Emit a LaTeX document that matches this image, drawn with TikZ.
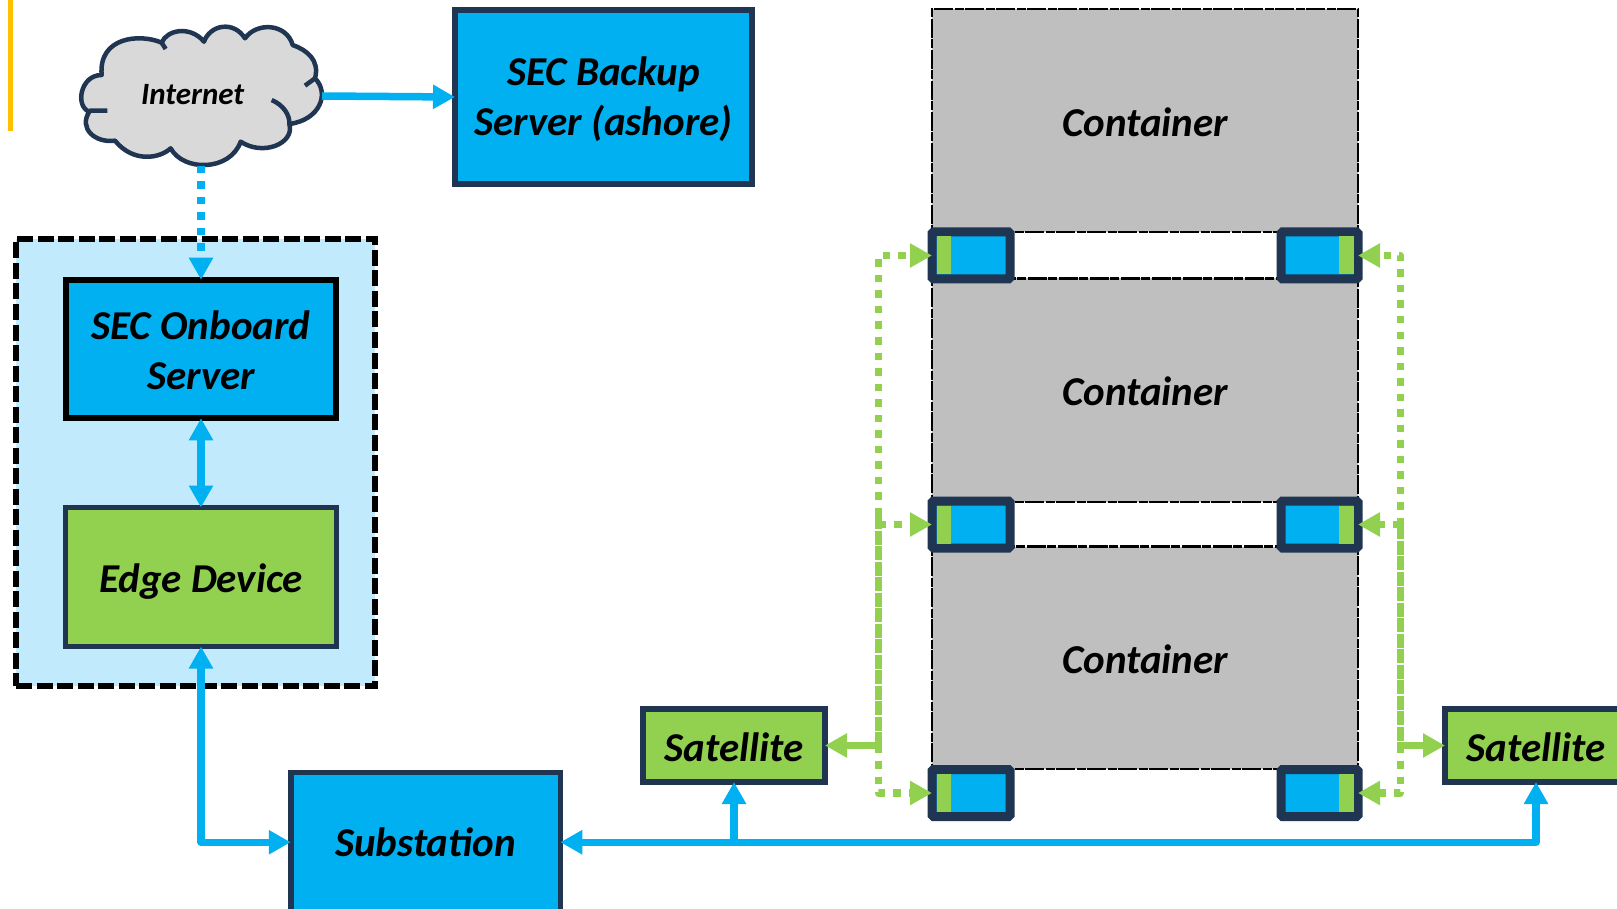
\documentclass[tikz,border=0pt]{standalone}
\usepackage{fontspec}
\setmainfont{Carlito}
\usetikzlibrary{arrows.meta,calc}
\definecolor{cblue}{HTML}{00B0F0}
\definecolor{cgreen}{HTML}{92D050}
\definecolor{cnavy}{HTML}{1F3552}
\definecolor{clight}{HTML}{C1EBFC}
\definecolor{cgray}{HTML}{BFBFBF}
\definecolor{ccloud}{HTML}{D9D9D9}
\definecolor{cyellow}{HTML}{FFC000}
\newcommand\dropby[2]{\raisebox{-#1}[\height][\depth]{#2}}
\tikzset{
  every node/.style={inner sep=0pt,outer sep=0pt,align=center,font=\bfseries\itshape\fontsize{41}{50}\selectfont},
  box/.style={draw=#1,rectangle,line width=6pt},
  group/.style={draw=black,fill=clight,line width=6pt,dash pattern=on 16pt off 4.5pt,minimum width=359pt,minimum height=447pt},
  cdash/.style={line width=2.4pt,dash pattern=on 19pt off 1.5pt on 9pt off 1.5pt},
  container/.style={draw=black,fill=cgray,cdash,minimum width=426pt},
  conn/.style={draw=cnavy,fill=cblue,line width=9pt,rounded corners=1.5pt,minimum height=47pt},
  bluetip/.style={-{Triangle[length=22pt,width=23pt]}},
  bluetips/.style={{Triangle[length=22pt,width=23pt]}-{Triangle[length=22pt,width=23pt]}},
  blueline/.style={draw=cblue,line width=7.5pt,line join=round},
  blueflow/.style={blueline,dash pattern=on 7.5pt off 8pt},
  greenline/.style={draw=cgreen,line width=7.5pt,line join=round},
  greenflow/.style={greenline,dash pattern=on 7.5pt off 8pt},
  greenrun/.style={greenline,dash pattern=on 14pt off 1.5pt},
  greentip/.style={-{Triangle[length=22pt,width=23pt]}}
}
\begin{document}
\begin{tikzpicture}[x=1pt,y=-1pt]
\useasboundingbox (0,0) rectangle (1617,909);
\clip (0,0) rectangle (1617,909);
\fill[cyellow] (8,0) rectangle (13,131);
% cloud
\begin{scope}[x=0.33333pt,y=-0.33333pt]
\draw[fill=ccloud,draw=cnavy,line width=4.5pt,line join=round]
 (305,225) .. controls (240,225) and (225,320) .. (268,335)
 .. controls (235,385) and (285,430) .. (345,422)
 .. controls (400,490) and (480,475) .. (512,445)
 .. controls (550,515) and (690,515) .. (722,425)
 .. controls (790,470) and (885,430) .. (868,372)
 .. controls (960,360) and (990,280) .. (945,235)
 .. controls (960,180) and (920,150) .. (878,135)
 .. controls (860,70) and (770,65) .. (735,115)
 .. controls (700,60) and (630,75) .. (612,125)
 .. controls (570,75) and (500,90) .. (485,128)
 .. controls (420,100) and (295,110) .. (305,225) -- cycle;
\draw[draw=cnavy,line width=4.5pt]
 (268,332) -- (322,332)
 (815,300) .. controls (850,315) and (870,345) .. (868,372)
 (945,235) -- (915,257)
 (485,128) -- (497,147);
\node[font=\bfseries\itshape\fontsize{31}{34}\selectfont] (internet) at (578,285) {Internet};
\end{scope}
\coordinate (cloudR) at (322,96);
\coordinate (cloudB) at (201,166);
% group and left boxes
\node[group] (grp) at (195.5,462.5) {};
\node[box=cnavy,fill=cblue,minimum width=297pt,minimum height=174pt] (backup) at (603.5,97) {\dropby{2.5pt}{SEC Backup}\\\dropby{2.5pt}{Server (ashore)}};
\node[box=black,fill=cblue,minimum width=270.5pt,minimum height=138.5pt] (onboard) at (201,349) {\dropby{1pt}{SEC Onboard}\\\dropby{1pt}{Server}};
\node[box=cnavy,fill=cgreen,line width=5pt,minimum width=271pt,minimum height=139pt] (edge) at (201,577) {\dropby{5pt}{Edge Device}};
\node[box=cnavy,fill=cblue,line width=5.5pt,minimum width=269.5pt,minimum height=140pt] (sub) at (425.5,842.25) {Substation};
\node[box=cnavy,fill=cgreen,minimum width=182pt,minimum height=73pt] (sat1) at (734,745.5) {\dropby{2pt}{Satellite}};
\node[box=cnavy,fill=cgreen,minimum width=182pt,minimum height=73pt] (sat2) at (1536,745.5) {\dropby{2pt}{Satellite}};
% containers
\node[container,minimum height=223pt] (c1) at (1145,120.5) {\dropby{1.5pt}{Container}};
\node[container,minimum height=223.5pt] (c2) at (1145,390.25) {\dropby{1.5pt}{Container}};
\node[container,minimum height=222.5pt] (c3) at (1145,657.75) {\dropby{1.5pt}{Container}};
% coupling blocks
\foreach \n/\y in {1/255.5,2/524.5,3/793}{
  \node[conn,minimum width=78pt] (l\n) at (971,\y) {};
  \node[conn,minimum width=77pt] (r\n) at (1319.5,\y) {};
  \fill[cgreen] ($(l\n.north west)+(4.5,4.5)$) rectangle ($(l\n.north west)+(19,42.5)$);
  \fill[cgreen] ($(r\n.north east)+(-4.5,4.5)$) rectangle ($(r\n.north east)+(-19,42.5)$);
}
% blue connectors
\draw[blueline,bluetip] (cloudR) -- (backup.west);
\draw[blueflow,bluetip] (cloudB) -- (onboard.north);
\draw[blueline,bluetips] (onboard.south) -- (edge.north);
\draw[blueline,bluetips] (edge.south) |- (sub.west);
\coordinate (busJ) at (sat1.south |- sub.east);
\draw[blueline,bluetips] (sat2.south) |- (sub.east);
\draw[blueline,bluetip] (busJ) -- (sat1.south);
% green connectors
\coordinate (gl) at (878.5,745.5);
\coordinate (gr) at (1400.5,745.5);
\coordinate (glt) at (878.5,515);
\coordinate (grt) at (1400.5,525);
\draw[greenline,greentip] ($(gl)+(3.75,0)$) -- (sat1.east);
\draw[greenline,greentip] ($(gr)+(-3.75,0)$) -- (sat2.west);
\draw[greenrun] (glt) -- (gl);
\draw[greenrun] (grt) -- ($(gr)+(0,6)$);
\draw[greenflow,greentip] (glt) |- (l1.west);
\draw[greenflow,greentip] (grt) |- (r1.east);
\draw[greenflow,greentip] (gl) |- (l3.west);
\draw[greenflow,greentip] (gr) |- (r3.east);
\draw[greenflow,greentip] (gl |- l2.west) -- (l2.west);
\draw[greenflow,greentip] (gr |- r2.east) -- (r2.east);
\end{tikzpicture}
\end{document}
